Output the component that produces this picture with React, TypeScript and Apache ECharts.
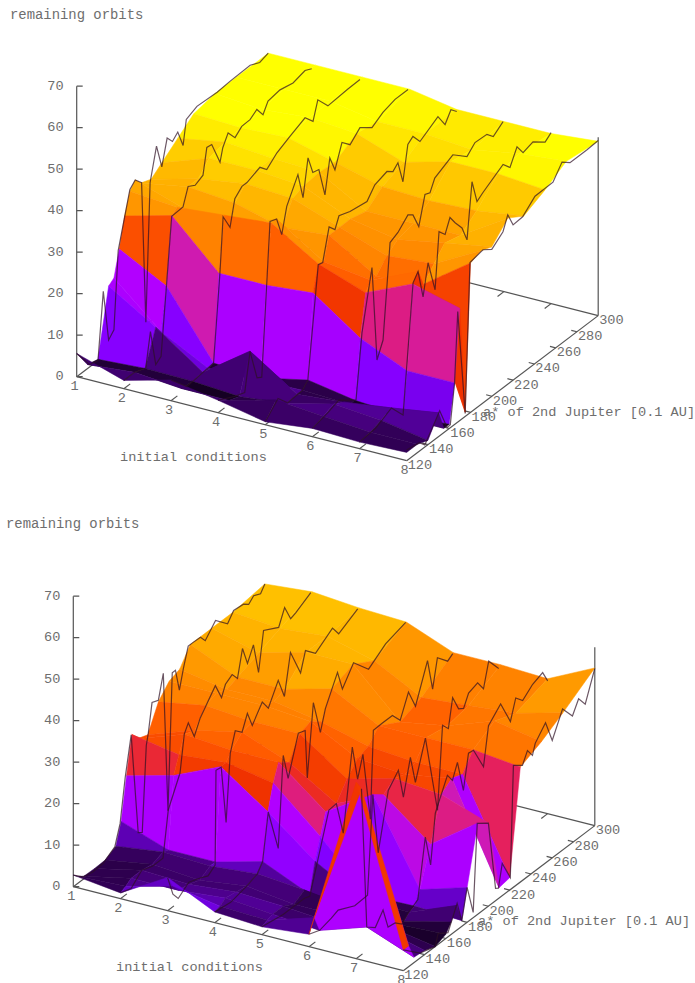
import React, { useEffect, useRef } from "react";
import * as echarts from "echarts";

const conditions = [1, 2, 3, 4, 5, 6, 7, 8];
const zTicks = [0, 10, 20, 30, 40, 50, 60, 70];
const yTicks = [120, 140, 160, 180, 200, 220, 240, 260, 280, 300];
const zAxisLabel = "remaining orbits";
const xAxisLabel = "initial conditions";
const yAxisLabel = "a* of 2nd Jupiter [0.1 AU]";

// surface heights: one row per initial condition, one column per orbit radius
const topRadii = [120, 130, 140, 150, 155, 160, 165, 170, 175, 180, 190, 200, 215, 230, 250, 270, 300];
const topSurface = [
  [5.6, 1, 0.3, 16, 17, 23, 30, 35, 36.7, 35, 34, 36, 39, 42, 43, 43, 43],
  [2, 2, 1, 9, 7, 17, 33, 34, 33, 37, 37, 40, 41, 41.5, 42, 43, 43],
  [5, 1, 0.8, 1, 1, 1.3, 22, 35, 31, 36, 38.7, 40, 40, 42, 43, 43, 43],
  [3, 1, 0, 9, 1.2, 0.6, 22, 36, 36, 33, 38, 39, 39.5, 39, 42, 41, 43],
  [0.7, 4, 1.2, 1.5, 1.5, 3, 23, 29, 28.6, 34, 34, 34, 33, 36, 38, 41, 41],
  [2, 3, 4, 2.5, 1, 1, 15, 25, 27, 27, 30, 32, 33, 35.5, 41, 40, 41],
  [1.6, 2, 3, 4, 1, 0.2, 10, 30, 32, 28, 31, 34, 33, 36, 41, 42, 41],
  [2, 2, 1, 5.7, 1, 1, 10, 27, 1, 36, 37, 36, 40, 37.6, 40, 43, 42],
];
const bottomRadii = [120, 125, 130, 140, 150, 160, 165, 170, 175, 180, 190, 200, 210, 220, 230, 250, 270, 300];
const bottomSurface = [
  [2.8, 1.5, 0.6, 0.5, 0.6, 2, 7, 17, 26, 24, 23, 29, 32, 33, 37, 37, 37, 38],
  [1.4, 2, 3, 3, 2.5, 3.5, 3, 20, 24, 28, 27, 31, 32, 31, 32, 34, 36, 39],
  [8, 5, 3, 2.5, 1.5, 3, 3, 25, 25, 27, 29.4, 30, 32, 31, 32, 37, 37, 38],
  [2.6, 3, 4, 3.5, 3, 4, 6, 17, 23, 27, 25, 30, 31, 29, 35, 37, 34, 37.5],
  [1.9, 2.5, 3, 3, 1.5, 3, 1, 8, 13, 18, 18, 22, 25, 26, 29, 26, 28, 33],
  [3, 6, 2, 2, 1.5, 1.5, 1.5, 1.7, 1.7, 25, 23, 25, 24, 25, 29, 28, 29, 33],
  [42.5, 40, 5.7, 4, 2, 0.5, 0.3, 1.5, 2, 5, 14, 24, 26, 25, 29, 32, 30, 32.5],
  [5, 5, 1.3, 1, 0, 1, 3, 6, 1.4, 8.4, 22, 20, 2.5, 3, 27.7, 30, 33, 38],
];

// isolines: [radius, orbits] for each initial condition
const topIsolines = [
  [[120,5.6],[132,0.6],[140,0],[145,15.7],[150,3],[155,4.5],[159,22.8],[170,35.4],[175,36.7],[181,34.9],[185,0.5],[189,33.4],[195,41],[200,35],[205,41],[210,39.2],[215,40.5],[220,36.3],[223,42],[233,43.2],[252,42.9],[264,43.2],[283,43.4],[292,42.3],[300,43]],
  [[120,2],[130,2],[140.6,1],[145,8.9],[150,0],[155,1],[165,32.8],[175.6,33],[180.4,37],[187,36],[194.4,37],[198,43],[202.6,42.8],[210.4,37],[213,40],[218,42.6],[224.5,40.2],[230.8,41.7],[238.6,41.8],[245,43],[250.8,40.6],[255.5,43],[266.8,43.5],[279,42.8],[290.3,43.6],[296.6,42.8]],
  [[120,5],[135,0.5],[150,1],[160,1.3],[166,21.8],[169,34.8],[175.5,31],[180,37],[186.7,38.7],[191.4,38.7],[203.6,40],[210,38.2],[219.6,40.4],[231.8,42],[246,43.7],[253.5,41.4],[258,45.7],[267.5,42.4],[286,42.8],[297.6,42.9]],
  [[120,3],[135,1],[145,0],[150,8.9],[156.6,1.3],[161,0.6],[168.8,36.6],[175,36],[179.8,31.3],[184.5,37.2],[195,42.8],[199.8,36.3],[204.5,45],[209,40.6],[214.7,40.2],[220.4,33],[225,41],[229.8,37.2],[236.4,42.5],[244,40.5],[253.3,42.8],[264.6,40.6],[274.9,42.3],[286.3,43.2],[298.5,43.2]],
  [[120,0.7],[132,4],[141,1.2],[155,1.5],[160,3],[169.8,28.9],[174,28.6],[180,36],[185.5,34.3],[189.3,36.9],[199.6,35.9],[215.6,35.2],[223,37.8],[234.4,38.8],[240,37.7],[244.7,38.9],[249.4,33.4],[254,41.5],[258.8,42.5],[265.4,40],[282.3,42.7],[289,39.5],[294.5,42],[300,40.5]],
  [[120,2],[135,3],[145,4],[155,2],[161,0.9],[166.6,16],[176,29.9],[180.7,6.7],[186.4,10.4],[193,32.6],[200.4,33.6],[209.8,36],[214.5,35.1],[220,31.2],[225.8,37.8],[230.5,37.3],[235,40],[252,42.3],[265.3,39.3],[272.8,41.2],[284,41],[290,39.3],[299.2,41.1]],
  [[120,1.6],[135,2],[150,4],[160.9,0.2],[170.3,30.2],[175,32],[179.7,25],[184.4,32.3],[191,24.5],[194.7,37.8],[200.4,36],[205,39.2],[209.8,37],[216.3,34.5],[221,30.7],[225.7,43.8],[230.4,38.1],[236,39.2],[254.9,42.3],[261.4,40.3],[268,44],[273.7,41.5],[283,42.3],[294.4,40],[300,41.2]],
  [[120,2.6],[132,2],[137,0.5],[146,4],[151,6],[158,0.6],[161,0.7],[165,10],[168,26.6],[175,0.7],[179.5,36.2],[191.7,36.9],[200,35.4],[210.5,37.6],[215,40.8],[220,37.4],[229,37.6],[240.6,40.3],[257.5,40.4],[266,43.6],[273.5,42],[289.5,42],[300,42.2]],
];
const bottomIsolines = [
  [[120,2.8],[129,0.6],[138.6,0],[148,0.2],[159,2],[164,6.7],[168.8,16.9],[174.4,26],[181,1.2],[184.8,0.5],[188.6,20.7],[190.5,23.3],[194,30],[200,29.4],[204.6,35],[209,1],[213,33.5],[216,33.5],[219.7,28],[223.5,32.5],[228,37],[232,37],[239.5,36.9],[244,35.2],[253.7,38.2],[265,35.2],[270.7,37.3],[280,37],[284.8,36],[289.5,37.2],[296,36.4],[300,38]],
  [[120,1.4],[130,0.5],[140,3],[150,2],[160,2],[165,12.7],[176,19.4],[180,28],[183.8,30],[189.4,25.6],[195,29],[209.2,34],[215,30],[218.7,32.5],[225,33.6],[230,31.7],[234.7,38],[239.4,33.5],[245,36.9],[249.8,29.3],[254.5,38.5],[268.7,36.5],[274.3,40.2],[280,36.4],[284.7,36.9],[298.9,39]],
  [[120,8],[125,3],[130,1],[140,3],[150,2],[158,1],[164.7,2.3],[165.5,25],[170.4,24.8],[175,10.6],[178.9,26.5],[183.6,31],[190,29.4],[195,33],[199.6,29.2],[209,33],[214.7,30.4],[224,35.3],[229.8,30.3],[235.5,39.8],[245,33],[249.6,37.5],[259,35],[275,38],[280.8,35.5],[298.7,38]],
  [[120,2.6],[135,2],[150,3],[160,4],[165,6],[170.3,16.9],[179.7,6.3],[184.4,27.8],[189,21.4],[198.6,30.4],[205,29.8],[207,18],[212.7,35],[219.3,26.6],[224,31.4],[235.4,37.9],[240,33],[250.5,37.3],[264.6,33],[280.6,36],[299.5,37.5]],
  [[120,1.9],[140,1],[160,1],[165,0.5],[183,17.8],[190,18],[196.5,9.6],[205,28.7],[210,20],[215,25],[222,8],[224.8,28.9],[233.3,29],[242.7,29],[250,26.4],[257.8,31.7],[264.4,27],[275.7,35.8],[280.5,28],[285,34.7],[294.6,32],[299.4,32.9]],
  [[120,3],[130,2],[141,2.8],[147.4,3.5],[163,1.5],[175,1.7],[180,25],[185,10],[194.5,23.2],[204,26.2],[208.7,18.8],[215.3,27.1],[220,20.2],[229.4,29],[240.8,9.4],[245.5,29],[251,27.1],[255,33.8],[260.6,30],[265.3,29.2],[270,32],[278.5,32.8],[284,30.3],[288.9,36],[298.3,32.4]],
  [[125,40],[130,5.7],[138,4],[145.3,6.8],[150,1.8],[156.6,1.5],[163,0],[169,1.5],[178,3],[185,16.7],[190,9],[194.4,20.6],[205.8,27.5],[210.5,25.4],[215.2,28.8],[220.8,21],[225.6,29],[230.3,28.8],[239.7,23],[244.4,32],[255.8,35],[265,29],[270,33.7],[276.5,31.8],[285.9,33.9],[295.3,34.9],[300,32]],
  [[120,5],[135.7,1.2],[150,0],[152.7,2.6],[162,1],[170.6,6.4],[175,1.4],[180,8.4],[185.7,1.3],[189.5,22],[200,20],[206.7,3],[209.4,2.5],[213,7.8],[220.6,2.9],[223.5,29.4],[232,27.7],[236.7,30.4],[241.4,28.3],[244,30.7],[253.7,33.8],[260,28.3],[269.7,34],[279,30.5],[284.8,33.5],[291,31],[300,37.9]],
];

const paletteStops: number[][] = [
  [0, 0, 0, 0], [1, 30, 0, 50], [3, 70, 0, 125], [4.5, 110, 0, 220], [6, 130, 0, 255], [11, 170, 0, 255],
  [16, 178, 0, 255], [18, 205, 25, 185], [21, 228, 30, 105], [22.5, 240, 50, 0], [27, 255, 90, 0],
  [31, 255, 130, 0], [35, 255, 170, 0], [39, 255, 205, 0], [42, 255, 255, 0],
];
function paletteColor(z: number) {
  const s = paletteStops;
  if (z >= s[s.length - 1][0]) return "rgb(255,255,0)";
  for (let i = 1; i < s.length; i++) {
    if (z <= s[i][0]) {
      const t = (z - s[i - 1][0]) / (s[i][0] - s[i - 1][0]);
      const c = [1, 2, 3].map((k) => Math.round(s[i - 1][k] + (s[i][k] - s[i - 1][k]) * t));
      return `rgb(${c[0]},${c[1]},${c[2]})`;
    }
  }
  return "rgb(0,0,0)";
}

type Proj = (x: number, y: number, z: number) => number[];
const makeProjection = (ox: number, oy: number): Proj => (x, y, z) => [
  ox + (x - 1) * 47.14 + (y - 120) * 1.064,
  oy + (x - 1) * 12 - (y - 120) * 0.806 - z * 4.15,
];

const axisColor = "#555";
const textColor = "#6e6e6e";
const font = '13.6px "Liberation Mono", monospace';
const titleFont = '13.9px "Liberation Mono", monospace';

function panelSeries(opts: {
  ox: number; oy: number; radii: number[]; surface: number[][]; isolines: number[][][];
  title: number[]; xLabel: number[]; yLabel: number[];
}) {
  const P = makeProjection(opts.ox, opts.oy);
  const { radii, surface, isolines } = opts;
  const quads: number[][] = [];
  for (let i = 0; i < conditions.length - 1; i++) {
    for (let j = radii.length - 2; j >= 0; j--) {
      quads.push([i, j]);
    }
  }
  // axes segments [x0,y0,z0,x1,y1,z1]
  const segs: number[][] = [
    [1, 120, 0, 8, 120, 0], [8, 120, 0, 8, 300, 0], [8, 300, 0, 1, 300, 0], [1, 300, 0, 1, 120, 0],
    [1, 120, 0, 1, 120, 70], [8, 300, 0, 8, 300, 43],
  ];
  zTicks.forEach((z) => segs.push([1, 120, z, 1.095, 121.42, z]));
  conditions.slice(1, 7).forEach((x) => {
    segs.push([x, 120, 0, x, 126, 0]);
    segs.push([x, 300, 0, x, 294, 0]);
  });
  yTicks.slice(1, 9).forEach((y) => {
    segs.push([8, y, 0, 7.88, y, 0]);
  });
  const segmentSeries = {
    type: "custom", coordinateSystem: "cartesian2d", clip: false, silent: true, z: 1,
    encode: { x: 0, y: 1 }, data: segs,
    renderItem: (_: any, api: any) => {
      const a = api.coord(P(api.value(0), api.value(1), api.value(2)));
      const b = api.coord(P(api.value(3), api.value(4), api.value(5)));
      return { type: "line", shape: { x1: a[0], y1: a[1], x2: b[0], y2: b[1] }, style: { stroke: axisColor, lineWidth: 1.2 } };
    },
  };
  const surfaceSeries = {
    type: "custom", coordinateSystem: "cartesian2d", clip: false, silent: true, z: 2,
    encode: { x: 0, y: 1 }, data: quads,
    renderItem: (_: any, api: any) => {
      const i = api.value(0), j = api.value(1);
      const x0 = conditions[i], x1 = conditions[i + 1], y0 = radii[j], y1 = radii[j + 1];
      const zs = [surface[i][j], surface[i][j + 1], surface[i + 1][j + 1], surface[i + 1][j]];
      const pts = [P(x0, y0, zs[0]), P(x0, y1, zs[1]), P(x1, y1, zs[2]), P(x1, y0, zs[3])].map((p) => api.coord(p));
      const color = paletteColor((zs[0] + zs[1] + zs[2] + zs[3]) / 4);
      return { type: "polygon", shape: { points: pts }, style: { fill: color, stroke: color, lineWidth: 0.5 } };
    },
  };
  const isolineSeries = {
    type: "custom", coordinateSystem: "cartesian2d", clip: false, silent: true, z: 3,
    encode: { x: 0, y: 1 }, data: conditions.map((c, i) => [c, i]),
    renderItem: (_: any, api: any) => {
      const c = api.value(0), i = api.value(1);
      const pts = isolines[i].map((p: number[]) => api.coord(P(c, p[0], p[1])));
      return { type: "polyline", shape: { points: pts }, style: { stroke: "rgba(45,15,35,0.7)", fill: "none", lineWidth: 1.2 } };
    },
  };
  const textEl = (api: any, p: number[], text: string, align: string, f: string) => {
    const c = api.coord(p);
    return { type: "text", x: c[0], y: c[1], style: { text, fill: textColor, font: f, textAlign: align, textVerticalAlign: "middle", align, verticalAlign: "middle" } };
  };
  const labels: any[] = [];
  zTicks.forEach((z) => labels.push({ value: [z, 0], kind: "z" }));
  conditions.forEach((x) => labels.push({ value: [x, 0], kind: "x" }));
  yTicks.forEach((y) => labels.push({ value: [y, 0], kind: "y" }));
  const labelSeries = {
    type: "custom", coordinateSystem: "cartesian2d", clip: false, silent: true, z: 4,
    encode: { x: 0, y: 1 }, data: labels,
    renderItem: (params: any, api: any) => {
      const l = labels[params.dataIndex];
      const v = l.value[0];
      if (l.kind === "z") { const p = P(1, 120, v); return textEl(api, [p[0] - 13, p[1]], String(v), "right", font); }
      if (l.kind === "x") { const p = P(v, 120, 0); return textEl(api, [p[0] - 2, p[1] + 10], String(v), "center", font); }
      const p = P(8, v, 0);
      return textEl(api, [p[0] + 1, p[1] + 5], String(v), "left", font);
    },
  };
  const titles = [
    { t: zAxisLabel, p: opts.title, f: titleFont },
    { t: xAxisLabel, p: opts.xLabel, f: font },
    { t: yAxisLabel, p: opts.yLabel, f: font },
  ];
  const titleSeries = {
    type: "custom", coordinateSystem: "cartesian2d", clip: false, silent: true, z: 5,
    encode: { x: 0, y: 1 }, data: titles.map((t) => t.p),
    renderItem: (params: any, api: any) => {
      const t = titles[params.dataIndex];
      return textEl(api, t.p, t.t, "left", t.f);
    },
  };
  return [segmentSeries, surfaceSeries, isolineSeries, labelSeries, titleSeries];
}

export default function App() {
  const ref = useRef<HTMLDivElement>(null);
  useEffect(() => {
    const chart = echarts.init(ref.current!, null, { renderer: "svg" });
    chart.setOption({
      animation: false,
      backgroundColor: "#fff",
      grid: { left: 0, top: 0, width: 695, height: 983 },
      xAxis: { type: "value", min: 0, max: 695, show: false },
      yAxis: { type: "value", min: 0, max: 983, inverse: true, show: false },
      series: [
        ...panelSeries({ ox: 76.7, oy: 376.7, radii: topRadii, surface: topSurface, isolines: topIsolines, title: [10, 15], xLabel: [120, 457], yLabel: [483, 412] }),
        ...panelSeries({ ox: 73.3, oy: 886.7, radii: bottomRadii, surface: bottomSurface, isolines: bottomIsolines, title: [6, 524], xLabel: [116, 967], yLabel: [478, 921] }),
      ],
    });
    return () => chart.dispose();
  }, []);
  return <div ref={ref} style={{ position: "absolute", left: 0, top: 0, width: 695, height: 983 }} />;
}
